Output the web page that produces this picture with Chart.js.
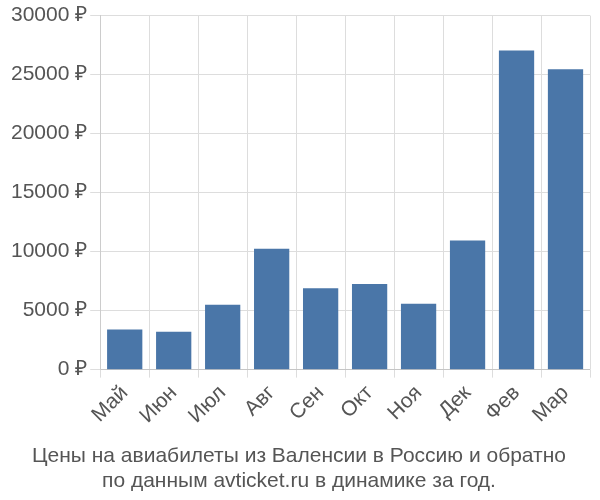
<!DOCTYPE html>
<html>
<head>
<meta charset="utf-8">
<script src="https://cdn.jsdelivr.net/npm/chart.js@4"></script>
<style>
  body { margin: 0; background: #fff; }
  #wrap { width: 600px; height: 500px; }
</style>
</head>
<body>
<div id="wrap"><canvas id="chart"></canvas></div>
<script>
const months = ["Май", "Июн", "Июл", "Авг", "Сен", "Окт", "Ноя", "Дек", "Фев", "Мар"];
const prices = [3400, 3200, 5500, 10250, 6900, 7250, 5580, 10950, 27050, 25450];
const yTicks = [0, 5000, 10000, 15000, 20000, 25000, 30000];

const ctx = document.getElementById("chart").getContext("2d");
new Chart(ctx, {
  type: "bar",
  data: {
    labels: months,
    datasets: [{
      data: prices,
      backgroundColor: "#4a76a8",
      barPercentage: 0.72,
      categoryPercentage: 1,
    }],
  },
  options: {
    responsive: true,
    maintainAspectRatio: false,
    animation: false,
    layout: { padding: { top: 6, right: 10, left: 8 } },
    plugins: {
      legend: { display: false },
      tooltip: { enabled: false },
      title: {
        display: true,
        position: "bottom",
        text: ["Цены на авиабилеты из Валенсии в Россию и обратно", "по данным avticket.ru в динамике за год."],
        color: "#555",
        font: { family: "Liberation Sans", size: 21, weight: "normal" },
        padding: { top: 12, bottom: 6 },
      },
    },
    scales: {
      x: {
        grid: { color: "#ddd", offset: true },
        ticks: {
          color: "#555",
          font: { family: "Liberation Sans", size: 21 },
          maxRotation: 45,
          minRotation: 45,
        },
      },
      y: {
        min: 0,
        max: 30000,
        afterBuildTicks: (axis) => { axis.ticks = yTicks.map(v => ({ value: v })); },
        grid: { color: "#ddd", tickLength: 10 },
        border: { color: "#ccc" },
        ticks: {
          color: "#555",
          font: { family: "Liberation Sans", size: 21 },
          callback: (v) => v + " ₽",
        },
      },
    },
  },
});
</script>
</body>
</html>
